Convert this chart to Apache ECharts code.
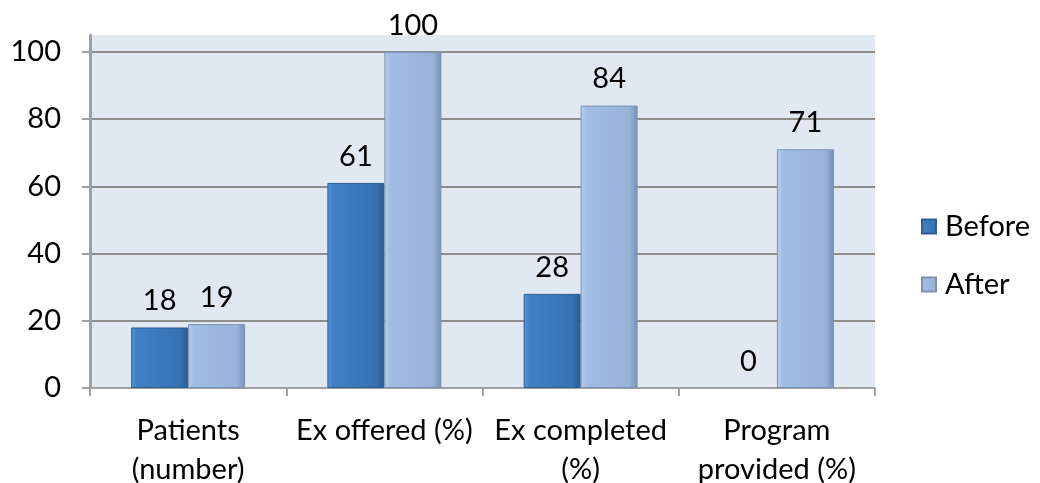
<!DOCTYPE html>
<html>
<head>
<meta charset="utf-8">
<script src="https://cdn.jsdelivr.net/npm/echarts@6/dist/echarts.min.js"></script>
<style>
  html, body { margin: 0; padding: 0; background: #ffffff; }
  #chart { width: 1040px; height: 483px; }
</style>
</head>
<body>
<div id="chart"></div>
<script>
// Rehabilitation exercise figures, before and after
const categories = ['Patients\n(number)', 'Ex offered (%)', 'Ex completed\n(%)', 'Program\nprovided (%)'];
const seriesNames = ['Before', 'After'];
const beforeValues = [18, 61, 28, 0];
const afterValues = [19, 100, 84, 71];
const yTickValues = [0, 20, 40, 60, 80, 100];

const FONT = 'Lato';

// Bevel-like horizontal shading for each series
function shade(stops) {
  return new echarts.graphic.LinearGradient(0, 0, 1, 0,
    stops.map(([o, c]) => ({ offset: o, color: c })));
}
const beforeFill = shade([[0, '#5595d6'], [0.1, '#3f80c4'], [0.85, '#3773b3'], [1, '#2a5a8f']]);
const afterFill = shade([[0, '#b9d0ee'], [0.1, '#a2bde3'], [0.85, '#98b2d9'], [1, '#7990b4']]);

// A zero-height bar should leave no outline on the axis
function toItems(values) {
  return values.map(v => v === 0 ? { value: v, itemStyle: { borderWidth: 0 } } : v);
}

const labelStyle = {
  show: true,
  position: 'top',
  distance: 12,
  color: '#000',
  fontFamily: FONT,
  fontSize: 29
};

const chart = echarts.init(document.getElementById('chart'), null, { renderer: 'canvas' });

chart.setOption({
  animation: false,
  backgroundColor: '#ffffff',
  grid: {
    left: 90, right: 165, top: 35, bottom: 95,
    outerBoundsMode: 'none',
    show: true,
    backgroundColor: '#e0e8f2',
    borderWidth: 0
  },
  legend: {
    orient: 'vertical',
    left: 916,
    top: 207,
    itemWidth: 14,
    itemHeight: 14,
    itemGap: 29,
    icon: 'rect',
    textStyle: { fontFamily: FONT, fontSize: 29, color: '#000', padding: [0, 0, 0, 4] },
    data: seriesNames
  },
  xAxis: {
    type: 'category',
    data: categories,
    axisLine: { lineStyle: { color: '#a0a0a0', width: 2 } },
    axisTick: { show: true, length: 8, lineStyle: { color: '#a0a0a0', width: 2 } },
    axisLabel: {
      color: '#000',
      fontFamily: FONT,
      fontSize: 29,
      lineHeight: 39,
      margin: 23,
      interval: 0
    },
    splitLine: { show: false }
  },
  yAxis: {
    type: 'value',
    min: 0,
    max: 105,
    interval: 20,
    axisLine: { show: true, lineStyle: { color: '#a0a0a0', width: 3 } },
    axisTick: { show: true, length: 8, customValues: yTickValues, lineStyle: { color: '#a0a0a0', width: 2 } },
    axisLabel: {
      customValues: yTickValues,
      color: '#000',
      fontFamily: FONT,
      fontSize: 29,
      margin: 29
    },
    splitLine: { show: true, lineStyle: { color: '#8e8e8e', width: 2 } }
  },
  series: [
    {
      name: seriesNames[0],
      type: 'bar',
      data: toItems(beforeValues),
      barWidth: 57,
      barGap: '0%',
      itemStyle: { color: beforeFill, borderColor: '#2d5f93', borderWidth: 1 },
      label: labelStyle
    },
    {
      name: seriesNames[1],
      type: 'bar',
      data: toItems(afterValues),
      barWidth: 57,
      barGap: '0%',
      itemStyle: { color: afterFill, borderColor: '#7a91b3', borderWidth: 1 },
      label: labelStyle
    }
  ]
});
</script>
</body>
</html>
